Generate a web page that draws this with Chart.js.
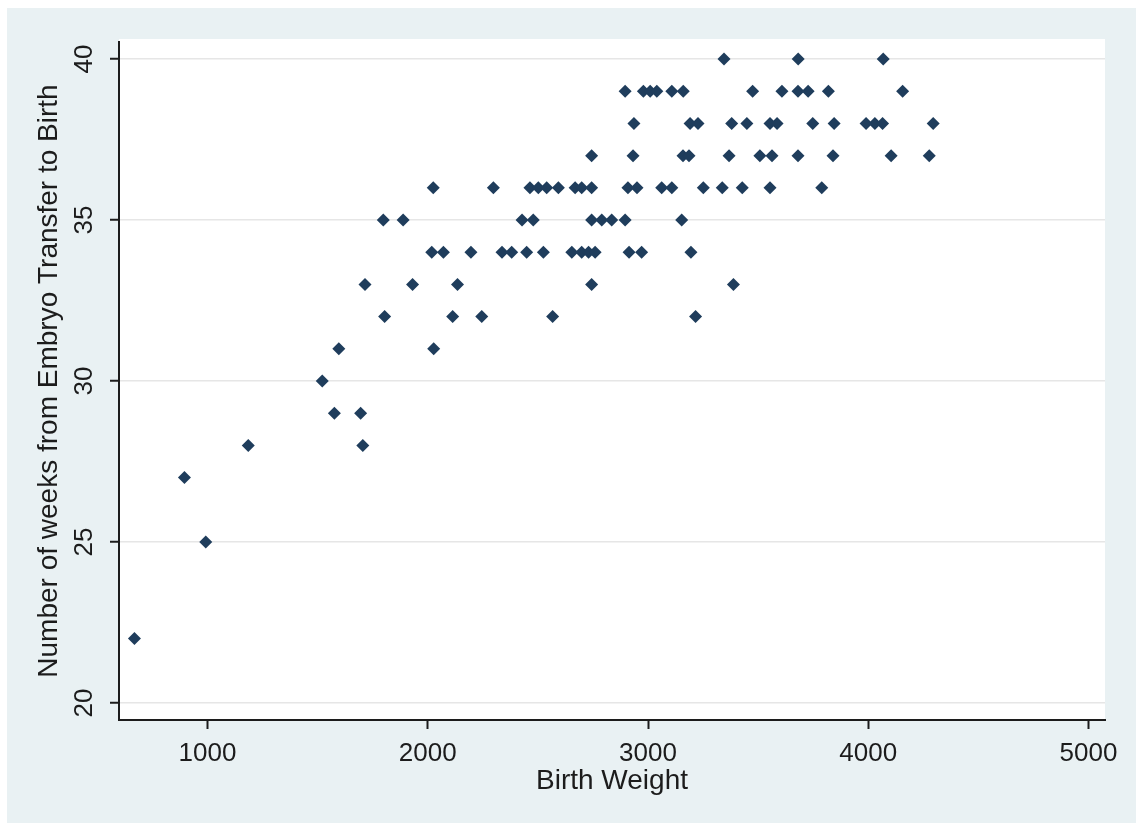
<!DOCTYPE html>
<html>
<head>
<meta charset="utf-8">
<title>Birth weight vs weeks</title>
<script src="https://cdn.jsdelivr.net/npm/chart.js@4.4.0/dist/chart.umd.min.js"></script>
<style>
  html, body { margin: 0; padding: 0; background: #fff; }
  #wrap { width: 1136px; height: 827px; }
</style>
</head>
<body>
<div id="wrap"><canvas id="scatter" width="1136" height="827"></canvas></div>
<script>
// birth weight (g) and weeks from embryo transfer, one entry per baby
const birthWeight = [
  3345, 3682, 4068,
  2896, 2979, 3010, 3040, 3108, 3160, 3475, 3608, 3681, 3727, 3819, 4156,
  2936, 3191, 3227, 3380, 3449, 3554, 3586, 3748, 3845, 3990, 4030, 4065, 4295,
  2744, 2932, 3159, 3186, 3368, 3508, 3563, 3681, 3840, 4104, 4277,
  2025, 2298, 2464, 2502, 2540, 2593, 2669, 2699, 2744, 2909, 2950, 3062, 3108, 3251, 3337, 3428, 3554, 3789,
  1798, 1888, 2428, 2479, 2744, 2790, 2835, 2896, 3153,
  2018, 2071, 2196, 2337, 2381, 2449, 2525, 2654, 2699, 2730, 2760, 2914, 2971, 3195,
  1715, 1931, 2135, 2744, 3388,
  1804, 2113, 2245, 2567, 3216,
  1596, 2027,
  1521,
  1576, 1695,
  1185, 1705,
  895,
  992,
  668
];
const weeks = [
  40, 40, 40,
  39, 39, 39, 39, 39, 39, 39, 39, 39, 39, 39, 39,
  38, 38, 38, 38, 38, 38, 38, 38, 38, 38, 38, 38, 38,
  37, 37, 37, 37, 37, 37, 37, 37, 37, 37, 37,
  36, 36, 36, 36, 36, 36, 36, 36, 36, 36, 36, 36, 36, 36, 36, 36, 36, 36,
  35, 35, 35, 35, 35, 35, 35, 35, 35,
  34, 34, 34, 34, 34, 34, 34, 34, 34, 34, 34, 34, 34, 34,
  33, 33, 33, 33, 33,
  32, 32, 32, 32, 32,
  31, 31,
  30,
  29, 29,
  28, 28,
  27,
  25,
  22
];

const xTicks = [1000, 2000, 3000, 4000, 5000];
const yTicks = [20, 25, 30, 35, 40];
const xRange = [598, 5075];
const yRange = [19.47, 40.53];

const points = birthWeight.map((w, i) => ({ x: w, y: weeks[i] }));

const ink = '#1c1c1c';
const navy = '#1f3d5c';
const fontFamily = '"Liberation Sans", Arial, sans-serif';

// light bluish graph region with a white plot region inside it
const backdrop = {
  id: 'backdrop',
  beforeDraw(chart) {
    const { ctx, chartArea } = chart;
    ctx.save();
    ctx.fillStyle = '#ffffff';
    ctx.fillRect(0, 0, chart.width, chart.height);
    ctx.fillStyle = '#e9f1f3';
    ctx.fillRect(7, 8, chart.width - 7, chart.height - 12);
    ctx.fillStyle = '#ffffff';
    ctx.fillRect(chartArea.left, chartArea.top - 3,
      chartArea.right - chartArea.left, chartArea.bottom - chartArea.top + 3);
    ctx.restore();
  }
};

const ctx = document.getElementById('scatter').getContext('2d');
new Chart(ctx, {
  type: 'scatter',
  data: {
    datasets: [{
      data: points,
      pointStyle: 'rectRot',
      pointRadius: 6.5,
      pointBorderWidth: 0,
      backgroundColor: navy,
      borderColor: navy
    }]
  },
  options: {
    responsive: false,
    animation: false,
    layout: { padding: { top: 42, right: 31, bottom: 0, left: 0 } },
    plugins: {
      legend: { display: false },
      tooltip: { enabled: false }
    },
    scales: {
      x: {
        type: 'linear',
        min: xRange[0],
        max: xRange[1],
        afterBuildTicks(scale) {
          scale.ticks = xTicks.map(v => ({ value: v }));
        },
        afterFit(scale) { scale.height = 107; },
        border: { display: true, color: ink, width: 2 },
        grid: { drawOnChartArea: false, tickLength: 9, tickColor: ink, tickWidth: 2 },
        ticks: {
          color: ink,
          padding: 9,
          font: { family: fontFamily, size: 26 },
          callback: v => String(v)
        },
        title: {
          display: true,
          text: 'Birth Weight',
          color: ink,
          font: { family: fontFamily, size: 28 },
          padding: { top: 0, bottom: 29 }
        }
      },
      y: {
        type: 'linear',
        min: yRange[0],
        max: yRange[1],
        afterBuildTicks(scale) {
          scale.ticks = yTicks.map(v => ({ value: v }));
        },
        afterFit(scale) { scale.width = 119; },
        border: { display: true, color: ink, width: 2 },
        grid: { color: '#e6e6e6', lineWidth: 1.5, tickLength: 9, tickColor: ink, tickWidth: 2 },
        ticks: {
          color: ink,
          padding: 11,
          minRotation: 90,
          maxRotation: 90,
          crossAlign: 'center',
          font: { family: fontFamily, size: 26 },
          callback: v => String(v)
        },
        title: {
          display: true,
          text: 'Number of weeks from Embryo Transfer to Birth',
          color: ink,
          font: { family: fontFamily, size: 28 },
          padding: { top: 32, bottom: 0 }
        }
      }
    }
  },
  plugins: [backdrop]
});
</script>
</body>
</html>
